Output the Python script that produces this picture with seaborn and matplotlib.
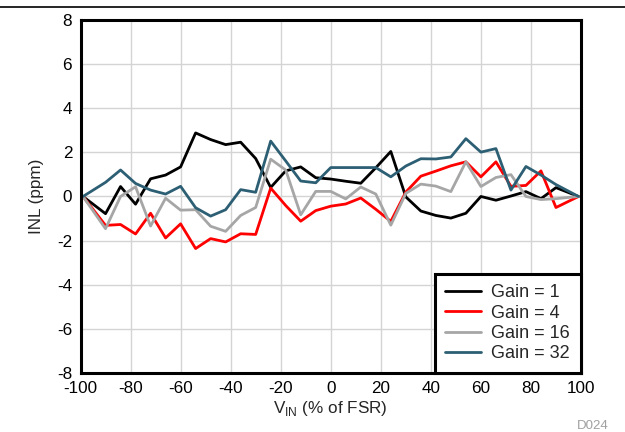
import numpy as np
import pandas as pd
import matplotlib
matplotlib.use("Agg")
import matplotlib.pyplot as plt
from matplotlib.lines import Line2D
import seaborn as sns

# Data
vin = [-99, -90, -84, -78, -72, -66, -60, -54, -48, -42, -36, -30, -24, -18, -12, -6,
       0, 6, 12, 18, 24, 30, 36, 42, 48, 54, 60, 66, 72, 78, 84, 90, 99]
gain_1 = [0, -0.78, 0.45, -0.35, 0.80, 0.97, 1.34, 2.88, 2.58, 2.35, 2.46, 1.72, 0.41, 1.16,
          1.34, 0.85, 0.79, 0.69, 0.60, 1.30, 2.04, -0.02, -0.66, -0.86, -0.98, -0.76, 0.0,
          -0.17, 0.02, 0.22, -0.10, 0.40, 0]
gain_4 = [0, -1.31, -1.27, -1.70, -0.76, -1.88, -1.24, -2.36, -1.91, -2.06, -1.69, -1.72, 0.38,
          -0.41, -1.12, -0.64, -0.44, -0.34, -0.07, -0.58, -1.13, 0.20, 0.92, 1.15, 1.39, 1.57,
          0.89, 1.57, 0.46, 0.50, 1.16, -0.50, 0]
gain_16 = [0, -1.46, 0.0, 0.44, -1.34, -0.08, -0.62, -0.60, -1.35, -1.58, -0.86, -0.50, 1.69,
           1.20, -0.83, 0.23, 0.23, -0.11, 0.43, 0.11, -1.30, 0.14, 0.56, 0.47, 0.22, 1.57,
           0.45, 0.86, 0.99, 0.0, -0.14, -0.10, 0]
gain_32 = [0, 0.64, 1.20, 0.59, 0.29, 0.11, 0.46, -0.51, -0.89, -0.60, 0.31, 0.19, 2.51, 1.61,
           0.70, 0.62, 1.31, 1.31, 1.31, 1.31, 0.89, 1.38, 1.71, 1.70, 1.79, 2.62, 2.01, 2.17,
           0.29, 1.36, 0.97, 0.54, 0]

labels = ["Gain = 1", "Gain = 4", "Gain = 16", "Gain = 32"]
colors = ["#000000", "#ff0000", "#a6a6a6", "#2d5f74"]

df = pd.concat([
    pd.DataFrame({"vin": vin, "inl": vals, "gain": lab})
    for vals, lab in zip([gain_1, gain_4, gain_16, gain_32], labels)
])

sns.set_style("white")
plt.rcParams["font.family"] = ["Liberation Sans", "DejaVu Sans"]
plt.rcParams["mathtext.fontset"] = "custom"
plt.rcParams["mathtext.rm"] = "Liberation Sans"
plt.rcParams["axes.unicode_minus"] = False

fig = plt.figure(figsize=(6.25, 4.32), dpi=100)
ax = fig.add_axes([0.1288, 0.1366, 0.8008, 0.8172])

sns.lineplot(data=df, x="vin", y="inl", hue="gain", palette=colors, hue_order=labels,
             linewidth=2.0, ax=ax, sort=False, estimator=None)

ax.set_xlim(-100, 100)
ax.set_ylim(-8, 8)
ax.set_xticks(np.arange(-100, 101, 20))
ax.set_yticks(np.arange(-8, 9, 2))
ax.grid(True, color="#d4d4d4", linewidth=1.0)
ax.set_axisbelow(True)
ax.tick_params(axis="both", length=0, labelsize=12.3, pad=6, colors="black")
for s in ax.spines.values():
    s.set_color("black")
    s.set_linewidth(2.2)

ax.set_xlabel(r"V$_{\mathrm{IN}}$ (% of FSR)", fontsize=12.3, labelpad=2)
ax.set_ylabel("INL (ppm)", fontsize=12.3, labelpad=9)

leg = ax.legend(loc="lower right", fontsize=13, frameon=True, fancybox=False,
                borderaxespad=0, handlelength=1.95, labelspacing=0.18,
                borderpad=0.6, handletextpad=0.6)
leg.get_frame().set_edgecolor("black")
leg.get_frame().set_linewidth(2.2)
leg.get_frame().set_alpha(1)

fig.add_artist(Line2D([0, 1], [1 - 7 / 432, 1 - 7 / 432], color="black", linewidth=1.2,
                      transform=fig.transFigure))
fig.text(0.973, 0.0146, "D024", color="#a0a0a0", fontsize=9.5, ha="right", va="center")

fig.savefig("out.png", dpi=100)
